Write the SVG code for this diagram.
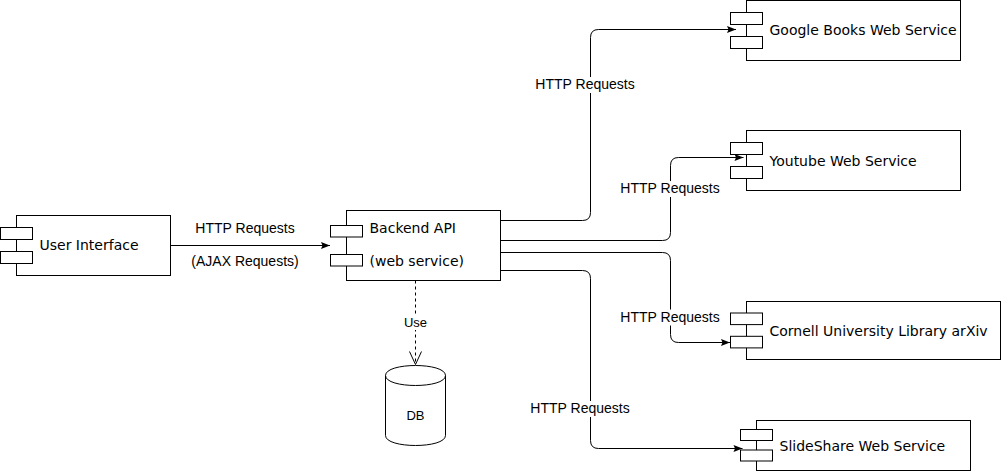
<svg xmlns="http://www.w3.org/2000/svg" width="1001" height="471" viewBox="0 0 1001 471">
  <style>
    .box { fill: #ffffff; stroke: #000000; stroke-width: 1; }
    .ntext { font-family: "DejaVu Sans", Verdana, sans-serif; font-size: 14px; fill: #000000; }
    .ltext { font-family: "Liberation Sans", Arial, sans-serif; font-size: 14px; fill: #000000; text-anchor: middle; }
    .stext { font-family: "Liberation Sans", Arial, sans-serif; font-size: 13px; fill: #000000; text-anchor: middle; }
    .edge { fill: none; stroke: #000000; stroke-width: 1; }
    .dash { stroke-dasharray: 3 3; }
    .lbg { fill: #ffffff; stroke: none; }
  </style>
  <defs>
    <marker id="arr" markerWidth="10" markerHeight="8" refX="9" refY="3.5" orient="auto" markerUnits="userSpaceOnUse" overflow="visible">
      <path d="M0,0 L9,3.5 L0,7 L1.5,3.5 z" fill="#000000" stroke="none"/>
    </marker>
    <marker id="open" markerWidth="14" markerHeight="14" refX="13" refY="6" orient="auto" markerUnits="userSpaceOnUse" overflow="visible">
      <path d="M0,0 L13,6 L0,12" fill="none" stroke="#000000" stroke-width="1"/>
    </marker>
  </defs>
  <rect x="0" y="0" width="1001" height="471" fill="#ffffff"/>

  <g id="connectors">
    <path class="edge" d="M160,245.5 H330" marker-end="url(#arr)"/>
    <text class="ltext" x="245" y="233">HTTP Requests</text>
    <text class="ltext" x="245" y="266">(AJAX Requests)</text>

    <path class="edge" d="M500.5,220.5 H582.5 Q590.5,220.5 590.5,212.5 V37.5 Q590.5,29.5 598.5,29.5 H736" marker-end="url(#arr)"/>
    <rect class="lbg" x="534" y="77" width="102" height="16"/>
    <text class="ltext" x="585" y="89">HTTP Requests</text>

    <path class="edge" d="M500.5,240.5 H662.5 Q670.5,240.5 670.5,232.5 V165.5 Q670.5,157.5 678.5,157.5 H743.5" marker-end="url(#arr)"/>
    <rect class="lbg" x="619" y="181" width="102" height="16"/>
    <text class="ltext" x="670" y="193">HTTP Requests</text>

    <path class="edge" d="M500.5,252.5 H662.5 Q670.5,252.5 670.5,260.5 V334.5 Q670.5,342.5 678.5,342.5 H730" marker-end="url(#arr)"/>
    <rect class="lbg" x="619" y="309.5" width="102" height="16"/>
    <text class="ltext" x="670" y="321.5">HTTP Requests</text>

    <path class="edge" d="M500.5,270.5 H582.5 Q590.5,270.5 590.5,278.5 V440.5 Q590.5,448.5 598.5,448.5 H742.5" marker-end="url(#arr)"/>
    <rect class="lbg" x="529" y="401" width="102" height="16"/>
    <text class="ltext" x="580" y="413">HTTP Requests</text>

    <path class="edge dash" d="M415.5,280.5 V364.5" marker-end="url(#open)"/>
    <rect class="lbg" x="402" y="314" width="27" height="16"/>
    <text class="stext" x="415.5" y="327">Use</text>
  </g>

  <g id="user-interface">
    <rect class="box" x="16.5" y="215.5" width="154" height="60"/>
    <rect class="box" x="0.5" y="227.5" width="32" height="12"/>
    <rect class="box" x="0.5" y="251.5" width="32" height="12"/>
    <text class="ntext" x="39.5" y="250">User Interface</text>
  </g>

  <g id="backend-api">
    <rect class="box" x="346.5" y="210.5" width="154" height="70"/>
    <rect class="box" x="330.5" y="225.5" width="32" height="11.5"/>
    <rect class="box" x="330.5" y="254.5" width="32" height="11.5"/>
    <text class="ntext" x="369.5" y="233">Backend API</text>
    <text class="ntext" x="369.5" y="266">(web service)</text>
  </g>

  <g id="db">
    <path class="box" d="M385.5,375.5 C385.5,362.17 445.5,362.17 445.5,375.5 L445.5,435.5 C445.5,448.83 385.5,448.83 385.5,435.5 Z"/>
    <path class="edge" d="M385.5,375.5 C385.5,388.83 445.5,388.83 445.5,375.5"/>
    <text class="stext" x="415.5" y="420">DB</text>
  </g>

  <g id="google-books">
    <rect class="box" x="746.5" y="0.5" width="214" height="60"/>
    <rect class="box" x="730.5" y="12.5" width="32" height="12"/>
    <rect class="box" x="730.5" y="36.5" width="32" height="12"/>
    <text class="ntext" x="769.5" y="35">Google Books Web Service</text>
  </g>

  <g id="youtube">
    <rect class="box" x="746.5" y="130.5" width="214" height="60"/>
    <rect class="box" x="730.5" y="142.5" width="32" height="12"/>
    <rect class="box" x="730.5" y="166.5" width="32" height="12"/>
    <text class="ntext" x="769.5" y="165.5">Youtube Web Service</text>
  </g>

  <g id="cornell-arxiv">
    <rect class="box" x="746.5" y="301.5" width="254" height="58"/>
    <rect class="box" x="730.5" y="313" width="32" height="11.6"/>
    <rect class="box" x="730.5" y="336.3" width="32" height="11.6"/>
    <text class="ntext" x="769.5" y="335.5">Cornell University Library arXiv</text>
  </g>

  <g id="slideshare">
    <rect class="box" x="756.5" y="420.5" width="214" height="50"/>
    <rect class="box" x="740.5" y="429.5" width="32" height="11"/>
    <rect class="box" x="740.5" y="450" width="32" height="11"/>
    <text class="ntext" x="779.5" y="450.5">SlideShare Web Service</text>
  </g>
</svg>
